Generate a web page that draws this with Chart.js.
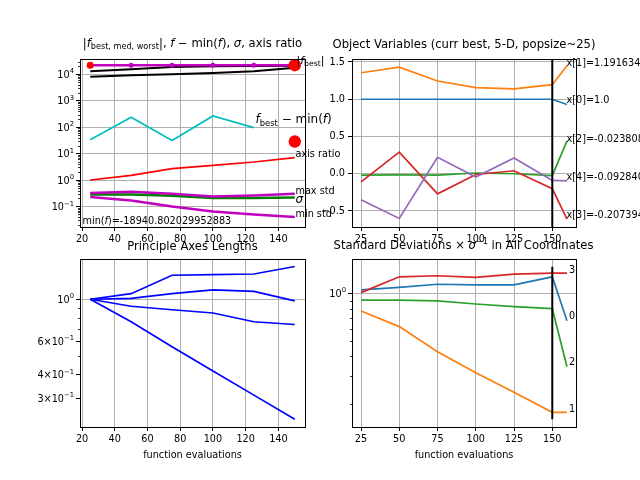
<!DOCTYPE html>
<html>
<head>
<meta charset="utf-8">
<title>CMA-ES run</title>
<script src="https://cdn.jsdelivr.net/npm/chart.js@4.4.1/dist/chart.umd.min.js"></script>
<style>
  html, body { margin: 0; padding: 0; background: #fff; }
  #fig { position: relative; width: 640px; height: 480px; overflow: hidden; }
  #fig canvas { position: absolute; left: 0; top: 0; }
</style>
</head>
<body>
<div id="fig">
  <canvas id="fPlot" width="640" height="480"></canvas>
  <canvas id="xPlot" width="640" height="480"></canvas>
  <canvas id="axesPlot" width="640" height="480"></canvas>
  <canvas id="stdsPlot" width="640" height="480"></canvas>
</div>
<script>
/******************************/
/*********** DATI *************/
/******************************/

// function evaluations (iterations) + end point of the label segments
var evals = [25, 50, 75, 100, 125, 150];
var evalsExt = [25, 50, 75, 100, 125, 150, 159.6];

// top left: f values, sigma, axis ratio
var fBest = [22000, 22000, 22000, 22000, 22000, 22000];
var fMed = [13000, 15400, 18800, 20000, 20500, 21000];
var fWorst = [8100, 9200, 10000, 11200, 13000, 17800];
var fMinusMin = [33, 238, 31, 266, 96];
var axisRatio = [1.0, 1.5, 2.7, 3.6, 4.8, 7.0];
var maxStd = [0.32, 0.36, 0.30, 0.24, 0.26, 0.30];
var sigmaVals = [0.284, 0.284, 0.254, 0.207, 0.207, 0.22];
var minStd = [0.226, 0.169, 0.10, 0.065, 0.05, 0.04];
var lastFBest = 22000;
var lastFMinusMin = 28.5;
var fTicks = [0.1, 1, 10, 100, 1000, 10000];
var fTickLabels = [['10', '\u22121'], ['10', '0'], ['10', '1'], ['10', '2'], ['10', '3'], ['10', '4']];
var evalTicksA = [20, 40, 60, 80, 100, 120, 140];

// top right: object variables
var x0 = [1.0, 1.0, 1.0, 1.0, 1.0, 1.0, 0.93];
var x1 = [1.355, 1.43, 1.245, 1.155, 1.14, 1.195, 1.45];
var x2 = [-0.02, -0.015, -0.02, 0.01, 0.0, -0.024, 0.44];
var x3 = [-0.11, 0.29, -0.27, -0.01, 0.04, -0.2, -0.61];
var x4 = [-0.35, -0.6, 0.22, -0.045, 0.21, -0.09, -0.095];
var xVarTicks = [-0.5, 0, 0.5, 1.0, 1.5];
var xVarTickLabels = ['\u22120.5', '0.0', '0.5', '1.0', '1.5'];
var evalTicksB = [25, 50, 75, 100, 125, 150];

// bottom left: principal axes lengths
var axis1 = [1.0, 1.07, 1.34, 1.35, 1.36, 1.49];
var axis2 = [1.0, 1.01, 1.07, 1.12, 1.10, 0.98];
var axis3 = [1.0, 0.918, 0.88, 0.846, 0.76, 0.735];
var axis4 = [1.0, 0.76, 0.561, 0.417, 0.311, 0.232];
var axesTicks = [0.3, 0.4, 0.6, 1];
var axesTickLabels = [['3\u00D710', '\u22121'], ['4\u00D710', '\u22121'], ['6\u00D710', '\u22121'], ['10', '0']];

// bottom right: standard deviations / sigma
var sd0 = [1.05, 1.09, 1.14, 1.13, 1.13, 1.27, 0.672];
var sd1 = [0.774, 0.617, 0.429, 0.316, 0.238, 0.178, 0.178];
var sd2 = [0.907, 0.905, 0.895, 0.856, 0.824, 0.80, 0.345];
var sd3 = [1.01, 1.27, 1.29, 1.26, 1.32, 1.34, 1.34];
var sdTicks = [1];
var sdTickLabels = [['10', '0']];

/******************************/
/********* FUNZIONI ***********/
/******************************/

var W = 640, H = 480;
var FONT = 'DejaVu Sans';
var TICK_SIZE = 9.7;
var TAB = ['#1f77b4', '#ff7f0e', '#2ca02c', '#d62728', '#9467bd'];

Chart.defaults.font.family = FONT;
Chart.defaults.color = '#000';

function pts(xs, ys) {
  return ys.map(function (y, i) { return { x: xs[i], y: y }; });
}

function lineSet(xs, ys, color, width) {
  return { data: pts(xs, ys), borderColor: color, borderWidth: width,
           pointRadius: 0, fill: false, tension: 0 };
}

function dotSet(xs, ys, color, radius) {
  return { data: pts(xs, ys), showLine: false, pointRadius: radius,
           pointBackgroundColor: color, pointBorderWidth: 0 };
}

// minor log ticks (2..9 x 10^n) inside the axis range
function logMinors(min, max, skip) {
  var out = [];
  for (var d = Math.floor(Math.log10(min)); d <= Math.ceil(Math.log10(max)); d++) {
    for (var k = 2; k <= 9; k++) {
      var v = k * Math.pow(10, d);
      if (v >= min && v <= max && skip.indexOf(v) < 0) out.push(v);
    }
  }
  return out;
}

// text with italic / subscript / superscript pieces (mathtext-like)
function drawRich(ctx, parts, x, y, size, align) {
  var total = 0;
  var pieces = parts.map(function (p) {
    var s = p[1] || 'n';
    var fs = (s === 'sub' || s === 'sup') ? size * 0.7 : size;
    var font = (s === 'i' ? 'italic ' : '') + fs + 'px "' + FONT + '"';
    ctx.font = font;
    var w = ctx.measureText(p[0]).width;
    total += w;
    var dy = s === 'sub' ? size * 0.28 : (s === 'sup' ? -size * 0.38 : 0);
    return { text: p[0], font: font, w: w, dy: dy };
  });
  var cx = align === 'center' ? x - total / 2 : (align === 'right' ? x - total : x);
  ctx.textAlign = 'left';
  ctx.textBaseline = 'middle';
  ctx.fillStyle = '#000';
  pieces.forEach(function (p) {
    ctx.font = p.font;
    ctx.fillText(p.text, cx, y + p.dy);
    cx += p.w;
  });
}

function axisOpts(pos, cfg) {
  var size = pos === 'left' ? 60 : 24;
  return {
    type: cfg.type || 'linear',
    position: pos,
    min: cfg.min,
    max: cfg.max,
    bounds: 'data',
    afterBuildTicks: function (scale) {
      scale.ticks = cfg.ticks.map(function (v) { return { value: v }; });
    },
    afterFit: function (scale) {
      if (pos === 'left') scale.width = size; else scale.height = size;
    },
    ticks: {
      autoSkip: false, maxRotation: 0, padding: 3, color: '#000',
      font: { size: TICK_SIZE },
      // power labels are drawn by the plugin (base + superscript)
      callback: function (v, i) { return cfg.power ? '' : cfg.labels[i]; }
    },
    grid: {
      color: function (ctx) {
        if (cfg.gridAt && ctx.tick && cfg.gridAt.indexOf(ctx.tick.value) < 0) return 'rgba(0,0,0,0)';
        return '#b0b0b0';
      },
      lineWidth: 1, tickColor: '#000', tickLength: 4, drawTicks: true
    },
    border: { display: false }
  };
}

// one matplotlib-like subplot: box = plot area in page pixels
function subplot(id, box, xCfg, yCfg, sets, extras) {
  sets.forEach(function (s, i) { s.order = sets.length - i; });
  return new Chart(document.getElementById(id), {
    type: 'line',
    data: { datasets: sets },
    options: {
      responsive: false, animation: false, events: [],
      layout: { padding: { left: box.l - 60, top: box.t, right: W - box.r, bottom: H - box.b - 24 } },
      plugins: { legend: { display: false }, tooltip: { enabled: false }, title: { display: false } },
      scales: { x: axisOpts('bottom', xCfg), y: axisOpts('left', yCfg) }
    },
    plugins: [{
      id: 'mplExtras',
      afterDraw: function (chart) {
        var ctx = chart.ctx, a = chart.chartArea, ys = chart.scales.y;
        ctx.save();
        // short minor ticks
        ctx.strokeStyle = '#000';
        ctx.lineWidth = 0.8;
        (yCfg.minor || []).forEach(function (v) {
          var py = Math.round(ys.getPixelForValue(v)) + 0.5;
          ctx.beginPath();
          ctx.moveTo(a.left - 2, py);
          ctx.lineTo(a.left, py);
          ctx.stroke();
        });
        // power-of-ten tick labels
        if (yCfg.power) {
          yCfg.ticks.forEach(function (v, i) {
            var lab = yCfg.labels[i];
            drawRich(ctx, [[lab[0]], [lab[1], 'sup']], a.left - 6, ys.getPixelForValue(v) + 1,
                     TICK_SIZE, 'right');
          });
        }
        // spines
        ctx.lineWidth = 1;
        ctx.strokeRect(Math.round(a.left) + 0.5, Math.round(a.top) + 0.5,
                       Math.round(a.right - a.left), Math.round(a.bottom - a.top));
        extras.forEach(function (t) {
          drawRich(ctx, t.parts, t.x, t.y, t.size, t.align);
        });
        ctx.restore();
      }
    }]
  });
}

/******************************/
/********* PROGRAMMA **********/
/******************************/

var boxTL = { l: 80, t: 59, r: 305, b: 227 };
var boxTR = { l: 352, t: 59, r: 576, b: 227 };
var boxBL = { l: 80, t: 259, r: 305, b: 427 };
var boxBR = { l: 352, t: 259, r: 576, b: 427 };

var xCfgA = { min: 18.75, max: 156.25, ticks: evalTicksA, labels: evalTicksA.map(String) };
var xCfgB = { min: 19.1, max: 165.5, ticks: evalTicksB, labels: evalTicksB.map(String) };

// --- f values ---
var fMin = Math.pow(10, -1.778), fMax = Math.pow(10, 4.578);
var fBestSet = lineSet(evals, fBest, '#bf00bf', 2.5);
fBestSet.pointRadius = [3.5, 2.5, 2.5, 2.5, 2.5, 0];
fBestSet.pointBackgroundColor = ['#ff0000', '#bf00bf', '#bf00bf', '#bf00bf', '#bf00bf', '#bf00bf'];
fBestSet.pointBorderWidth = 0;

subplot('fPlot', boxTL, xCfgA,
  { type: 'logarithmic', min: fMin, max: fMax, ticks: fTicks, labels: fTickLabels, power: true,
    minor: logMinors(fMin, fMax, []) },
  [
    lineSet(evals, fWorst, '#000', 2),
    lineSet(evals, fMed, '#000', 2),
    fBestSet,
    lineSet(evals, fMinusMin, '#00bfbf', 1.7),
    lineSet(evals, axisRatio, '#ff0000', 1.7),
    lineSet(evals, sigmaVals, '#008000', 2.5),
    lineSet(evals, maxStd, '#bf00bf', 2.5),
    lineSet(evals, minStd, '#bf00bf', 2.5),
    dotSet([150], [lastFBest], '#ff0000', 6.2),
    dotSet([150], [lastFMinusMin], '#ff0000', 6.2)
  ],
  [
    { parts: [['|'], ['f', 'i'], ['best, med, worst', 'sub'], ['|, '], ['f', 'i'], [' \u2212 min('], ['f', 'i'], ['), '], ['\u03C3', 'i'], [', axis ratio']],
      x: 192.5, y: 44, size: 11.6, align: 'center' },
    { parts: [['|'], ['f', 'i'], ['best', 'sub'], ['|']], x: 296.5, y: 61, size: 11, align: 'left' },
    { parts: [['f', 'i'], ['best', 'sub'], [' \u2212 min('], ['f', 'i'], [')']], x: 255.5, y: 120, size: 12, align: 'left' },
    { parts: [['axis ratio']], x: 295.5, y: 154, size: 9.7, align: 'left' },
    { parts: [['max std']], x: 295.5, y: 191.5, size: 9.7, align: 'left' },
    { parts: [['\u03C3', 'i']], x: 295.5, y: 199.5, size: 12, align: 'left' },
    { parts: [['min std']], x: 295.5, y: 214.5, size: 9.7, align: 'left' },
    { parts: [['min('], ['f', 'i'], [')=-18940.802029952883']], x: 82.5, y: 221.5, size: 9.7, align: 'left' }
  ]);

// --- object variables ---
var xMin = -0.715, xMax = 1.54;
subplot('xPlot', boxTR, xCfgB,
  { min: xMin, max: xMax, ticks: xVarTicks, labels: xVarTickLabels },
  [
    lineSet(evalsExt, x0, TAB[0], 1.7),
    lineSet(evalsExt, x1, TAB[1], 1.7),
    lineSet(evalsExt, x2, TAB[2], 1.7),
    lineSet(evalsExt, x3, TAB[3], 1.7),
    lineSet(evalsExt, x4, TAB[4], 1.7),
    lineSet([150, 150], [xMin, xMax], '#000', 2)
  ],
  [
    { parts: [['Object Variables (curr best, 5-D, popsize~25)']], x: 464, y: 45, size: 11.6, align: 'center' },
    { parts: [['x[1]=1.191634132']], x: 566.5, y: 63.5, size: 9.7, align: 'left' },
    { parts: [['x[0]=1.0']], x: 566.5, y: 100.5, size: 9.7, align: 'left' },
    { parts: [['x[2]=-0.023808']], x: 566.5, y: 139, size: 9.7, align: 'left' },
    { parts: [['x[4]=-0.092840']], x: 566.5, y: 177, size: 9.7, align: 'left' },
    { parts: [['x[3]=-0.207394']], x: 566.5, y: 215, size: 9.7, align: 'left' }
  ]);

// --- principal axes lengths ---
var axMin = Math.pow(10, -0.676), axMax = Math.pow(10, 0.213);
subplot('axesPlot', boxBL, xCfgA,
  { type: 'logarithmic', min: axMin, max: axMax, ticks: axesTicks, labels: axesTickLabels, power: true,
    gridAt: [1], minor: logMinors(axMin, axMax, axesTicks) },
  [
    lineSet(evals, axis1, '#0000ff', 1.7),
    lineSet(evals, axis2, '#0000ff', 1.7),
    lineSet(evals, axis3, '#0000ff', 1.7),
    lineSet(evals, axis4, '#0000ff', 1.7)
  ],
  [
    { parts: [['Principle Axes Lengths']], x: 192.5, y: 246.5, size: 11.6, align: 'center' },
    { parts: [['function evaluations']], x: 192.5, y: 455.5, size: 9.7, align: 'center' }
  ]);

// --- standard deviations ---
var sdMin = Math.pow(10, -0.842), sdMax = Math.pow(10, 0.216);
subplot('stdsPlot', boxBR, xCfgB,
  { type: 'logarithmic', min: sdMin, max: sdMax, ticks: sdTicks, labels: sdTickLabels, power: true,
    minor: logMinors(sdMin, sdMax, sdTicks) },
  [
    lineSet(evalsExt, sd0, TAB[0], 1.7),
    lineSet(evalsExt, sd1, TAB[1], 1.7),
    lineSet(evalsExt, sd2, TAB[2], 1.7),
    lineSet(evalsExt, sd3, TAB[3], 1.7),
    lineSet([150, 150], [0.161, 1.47], '#000', 2)
  ],
  [
    { parts: [['Standard Deviations \u00D7 '], ['\u03C3', 'i'], ['\u22121', 'sup'], [' in All Coordinates']],
      x: 463.5, y: 246, size: 11.6, align: 'center' },
    { parts: [['3']], x: 569, y: 270, size: 9.7, align: 'left' },
    { parts: [['0']], x: 569, y: 316.5, size: 9.7, align: 'left' },
    { parts: [['2']], x: 569, y: 362, size: 9.7, align: 'left' },
    { parts: [['1']], x: 569, y: 409, size: 9.7, align: 'left' },
    { parts: [['function evaluations']], x: 464, y: 455.5, size: 9.7, align: 'center' }
  ]);
</script>
</body>
</html>
